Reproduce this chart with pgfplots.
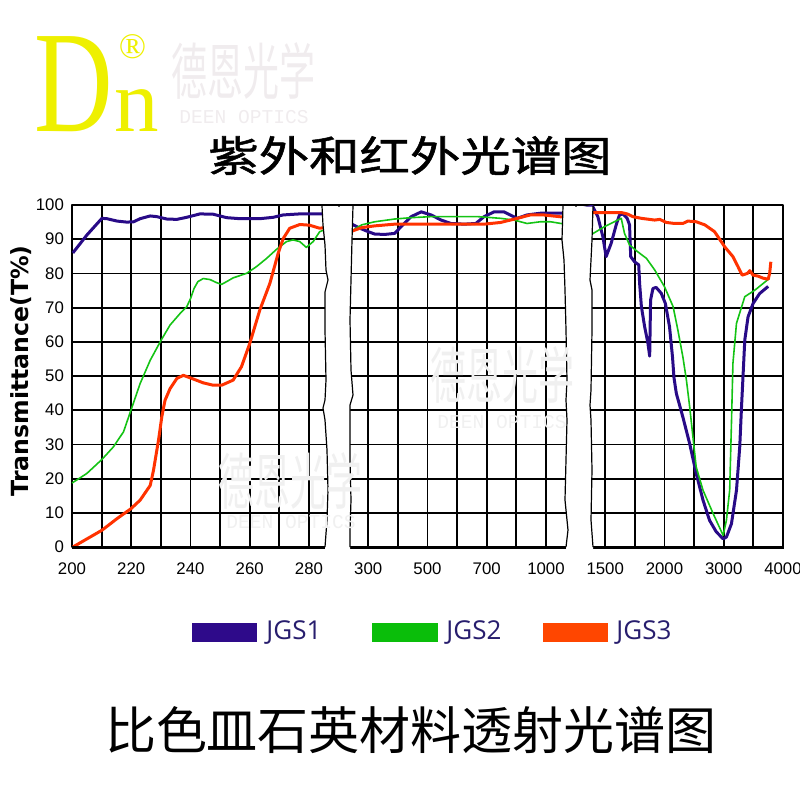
\documentclass[border=0pt]{standalone}
\usepackage{fontspec}
\usepackage{pgfplots}
\pgfplotsset{compat=1.18}
\setmainfont{Liberation Sans}
\newfontfamily\cjk{Noto Sans CJK SC}
\newfontfamily\cjkmed[FakeBold=1.2]{Noto Sans CJK SC}
\newfontfamily\djv{DejaVu Sans}
\newfontfamily\osans{Open Sans}
\newfontfamily\lserif{Liberation Serif}
\newfontfamily\lmono{Liberation Mono}
\definecolor{cBlue}{RGB}{40,10,135}
\definecolor{cGreen}{RGB}{20,195,20}
\definecolor{cRed}{RGB}{255,50,0}
\definecolor{sBlue}{RGB}{46,10,138}
\definecolor{sGreen}{RGB}{10,190,10}
\definecolor{sRed}{RGB}{255,70,0}
\definecolor{legText}{RGB}{40,30,110}
\definecolor{logoY}{RGB}{238,240,0}
\definecolor{wm}{RGB}{240,236,238}
% x is in grid units: 200..280 nm -> 0..8 (10 nm each), 300,400,...,800,1000 -> 10..16,
% 1500,..,2000,..,3000,..,4000 -> 18..24 (as on the reference's broken axis)
\begin{document}
\begin{tikzpicture}
\path[use as bounding box] (0,0) rectangle (400pt,-400pt);
\begin{axis}[
  at={(36pt,-273.5pt)}, anchor=south west,
  scale only axis, width=355.5pt, height=171pt,
  xmin=0, xmax=24, ymin=0, ymax=100,
  xtick={0,2,...,24},
  xticklabels={200,220,240,260,280,300,500,700,1000,1500,2000,3000,4000},
  minor xtick={1,3,...,23},
  ytick={0,10,...,100},
  grid=both,
  major grid style={black, line width=0.9pt},
  minor grid style={black, line width=0.9pt},
  major tick length=0pt, minor tick length=0pt,
  axis line style={black, line width=1pt},
  /pgf/number format/assume math mode=true,
  ticklabel style={font=\fontsize{8.4}{10}\selectfont},
  xticklabel style={yshift=-4.5pt},
  yticklabel style={xshift=-0.5pt},
  ylabel={\djv\bfseries\fontsize{11.8}{14}\selectfont Transmittance(T\%)},
  ylabel style={at={(axis description cs:-0.0717,0.515)}, anchor=center},
  clip=false,
  line join=round,
]
\addplot[cBlue, line width=1.5pt] coordinates {
(0.03,86)(0.5,91.2)(1.01,96.1)(1.18,96)(1.52,95.3)(1.85,95)(2.08,95.1)(2.30,96)(2.64,96.8)(2.86,96.6)(3.20,95.9)(3.54,95.8)(3.87,96.4)(4.32,97.4)(4.77,97.3)(5.22,96.3)(5.67,96)(6.34,96)(6.79,96.4)(7.13,97.1)(7.69,97.4)(8.6,97.4)
(9.4,94.6)(9.72,93.2)(10.0,92.2)(10.22,91.5)(10.56,91.4)(10.89,91.7)(11.17,94.2)(11.45,96.6)(11.79,98.0)(12.12,97.1)(12.46,95.6)(12.79,94.6)(13.24,94.4)(13.63,94.6)(13.91,96.6)(14.25,98.0)(14.58,98.0)(14.86,96.8)(15.03,96.1)(15.36,97.1)(15.81,97.6)(16.15,97.6)(16.65,97.6)
(17.5,99.5)(17.58,99.5)(17.75,96.6)(17.92,90.7)(18.03,84.9)(18.2,88.8)(18.37,94.2)(18.48,97.1)(18.6,97.4)(18.74,96.1)(18.82,94.2)(18.86,84.9)(18.99,83.4)(19.13,82.5)(19.16,77.1)(19.22,70.3)(19.33,64.4)(19.44,59.6)(19.5,55.8)(19.53,72.2)(19.61,75.6)(19.72,75.9)(19.89,74.2)(20.03,71.2)(20.17,64.4)(20.27,55.6)(20.32,49.5)(20.4,44.9)(20.62,38)(20.85,30.2)(21.07,21.5)(21.3,13.7)(21.52,7.8)(21.75,4.4)(21.98,2.4)(22.09,2.9)(22.26,6.8)(22.43,16.6)(22.54,29.3)(22.6,41)(22.65,49.8)(22.71,60.5)(22.82,67.3)(22.99,71.2)(23.21,74.1)(23.5,76.2)
};
\addplot[cGreen, line width=0.8pt] coordinates {
(0,18.7)(0.5,21.5)(1.01,25.6)(1.40,29.3)(1.74,33.7)(1.99,40)(2.30,47.8)(2.64,54.6)(3.01,60.5)(3.31,64.9)(3.65,68.3)(3.87,70.2)(4.0,72.6)(4.12,75.6)(4.25,77.6)(4.43,78.5)(4.66,78.2)(4.88,77.3)(5.05,76.8)(5.22,77.6)(5.44,78.7)(5.89,80)(6.23,82)(6.57,84.4)(6.90,87)(7.24,89.3)(7.46,89.8)(7.69,89.3)(7.91,87.6)(8.14,89.3)(8.36,92.2)(8.6,93)
(9.4,92.2)(9.78,94.2)(10.22,95.1)(10.89,95.9)(11.45,96.3)(12.12,96.6)(12.91,96.6)(13.69,96.6)(14.02,96.4)(14.47,96.1)(14.92,95.6)(15.36,94.6)(15.81,95.1)(16.15,95.1)(16.65,94.4)
(17.5,91.2)(17.98,93.7)(18.54,96.1)(18.65,91.7)(18.82,88.3)(19.1,86.3)(19.39,84.4)(19.67,81)(20.0,76.1)(20.29,70.3)(20.45,63.5)(20.62,55.6)(20.74,48.8)(20.85,41)(20.96,32.2)(21.07,23.4)(21.3,16.6)(21.64,9.8)(21.98,3.4)(22.09,7.8)(22.2,16.6)(22.26,36.1)(22.31,53.7)(22.43,65.4)(22.71,73.2)(23.05,75.1)(23.55,78.6)
};
\addplot[cRed, line width=1.5pt] coordinates {
(0.03,0)(0.51,2.4)(1.01,4.9)(1.52,8.3)(1.99,11.2)(2.30,13.7)(2.64,18)(2.75,22.4)(2.92,31.2)(3.03,38)(3.14,42.9)(3.31,46.3)(3.54,49.3)(3.76,50.2)(4.04,49.3)(4.43,48)(4.77,47.3)(5.05,47.3)(5.44,48.8)(5.72,52.7)(6.00,59.5)(6.34,69.3)(6.68,77.1)(6.96,85.9)(7.13,90.2)(7.35,93.2)(7.69,94.3)(8.02,94.1)(8.36,93.2)(8.6,93.5)
(9.4,92.2)(9.78,93.4)(10.22,93.9)(10.89,94.4)(12.01,94.4)(13.13,94.4)(13.91,94.4)(14.47,94.9)(15.03,96.1)(15.47,97.1)(15.92,97.1)(16.65,96.4)
(17.5,97.8)(17.98,97.8)(18.54,97.8)(18.74,97.4)(18.93,96.6)(19.22,96.1)(19.67,95.6)(19.84,95.8)(20.06,94.9)(20.34,94.6)(20.62,94.6)(20.79,95.3)(21.07,95.1)(21.36,94.2)(21.69,92.2)(22.03,87.8)(22.31,84.9)(22.48,82)(22.62,79.5)(22.8,80)(22.88,80.8)(22.99,79.5)(23.16,79.2)(23.33,78.6)(23.5,78.3)(23.55,80)(23.59,83.4)
};
\end{axis}
\begin{scope}[x=0.5pt,y=-0.5pt]
% thick bottom axis line
\draw[black, line width=1.5pt] (71.5,547) -- (783.5,547);
% broken-axis gaps
\fill[white] (322,206.5)--(323,225)--(325,245)--(326,270)--(328,280)--(325,292)--(325,330)--(326,380)--(325,400)--(323,408)--(325,420)--(327,450)--(328,490)--(327,520)--(325,547)--(325,553)
  --(350,553)--(350,547)--(350,530)--(351,500)--(350,460)--(350,405)--(353,395)--(351,370)--(350,320)--(351,280)--(352,240)--(353,206.5)--cycle;
\fill[white] (563,206.5)--(562,240)--(564,260)--(565,290)--(566,330)--(567,380)--(566,400)--(567,420)--(566,460)--(565,500)--(568,530)--(566,547)--(566,553)
  --(593,553)--(593,547)--(591,520)--(592,470)--(591,420)--(590,405)--(591,390)--(592,330)--(592,290)--(590,280)--(592,240)--(593,206.5)--cycle;
\draw[black, line width=0.6pt] (322,206)--(323,225)--(325,245)--(326,270)--(328,280)--(325,292)--(325,330)--(326,380)--(325,400)--(323,408)--(325,420)--(327,450)--(328,490)--(327,520)--(325,547);
\draw[black, line width=0.6pt] (353,206)--(352,240)--(351,280)--(350,320)--(351,370)--(353,395)--(350,405)--(350,460)--(351,500)--(350,530)--(350,547);
\draw[black, line width=0.6pt] (563,206)--(562,240)--(564,260)--(565,290)--(566,330)--(567,380)--(566,400)--(567,420)--(566,460)--(565,500)--(568,530)--(566,547);
\draw[black, line width=0.6pt] (593,206)--(592,240)--(590,280)--(592,290)--(592,330)--(591,390)--(590,405)--(591,420)--(592,470)--(591,520)--(593,547);
% watermarks
\node[text=black!6, inner sep=0] at (502,375) {\scalebox{1}[1.7]{\cjk\fontsize{18}{18}\selectfont 德恩光学}};
\node[text=black!6, inner sep=0] at (502,422) {\lmono\fontsize{9.8}{10}\selectfont DEEN OPTICS};
\node[text=black!6, inner sep=0] at (291,481) {\scalebox{1}[1.7]{\cjk\fontsize{18}{18}\selectfont 德恩光学}};
\node[text=black!6, inner sep=0] at (291,522) {\lmono\fontsize{9.8}{10}\selectfont DEEN OPTICS};
% logo
\node[text=logoY, inner sep=0, anchor=base west] at (34,131) {\scalebox{0.75}[1]{\lserif\fontsize{72.5}{72.5}\selectfont D}};
\node[text=logoY, inner sep=0, anchor=base west] at (114,131) {\lserif\fontsize{44.5}{44.5}\selectfont\raisebox{0pt}[0.46em][0pt]{n}};
\node[text=logoY, inner sep=0, anchor=base] at (132.5,58.5) {\lserif\fontsize{18}{18}\selectfont ®};
\node[text=wm, inner sep=0] at (243.5,71) {\scalebox{1}[1.7]{\cjk\fontsize{18}{18}\selectfont 德恩光学}};
\node[text=wm, inner sep=0] at (244,117.5) {\lmono\fontsize{9.8}{10}\selectfont DEEN OPTICS};
% titles
\node[inner sep=0] at (410,155.5) {\scalebox{1.2}[1]{\cjkmed\fontsize{21}{21}\selectfont 紫外和红外光谱图}};
\node[inner sep=0] at (411,730) {\cjk\fontsize{25.5}{26}\selectfont 比色皿石英材料透射光谱图};
% legend
\fill[sBlue] (191.7,622.7) rectangle (257.3,642.3);
\node[text=legText, anchor=west, inner sep=0] at (266,632.5) {\osans\fontsize{13}{13}\selectfont JGS1};
\fill[sGreen] (371.7,622.7) rectangle (437.7,642.3);
\node[text=legText, anchor=west, inner sep=0] at (446,632.5) {\osans\fontsize{13}{13}\selectfont JGS2};
\fill[sRed] (542.7,622.7) rectangle (608.3,642.3);
\node[text=legText, anchor=west, inner sep=0] at (616,632.5) {\osans\fontsize{13}{13}\selectfont JGS3};
\end{scope}
\end{tikzpicture}
\end{document}
